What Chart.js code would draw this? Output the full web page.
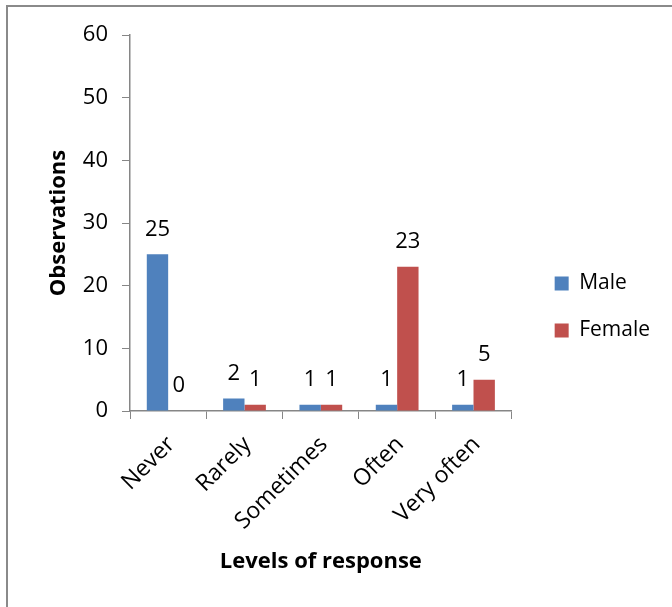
<!DOCTYPE html>
<html>
<head>
<meta charset="utf-8">
<script src="https://cdn.jsdelivr.net/npm/chart.js@4/dist/chart.umd.min.js"></script>
<style>
  html, body { margin: 0; padding: 0; background: #fff; }
  #wrap { position: relative; width: 672px; height: 607px; overflow: hidden; }
  #frame { position: absolute; left: 6px; top: 5px; right: -10px; bottom: -10px;
           border-left: 2px solid #8a8a8a; border-top: 2px solid #8a8a8a; }
  #c { position: absolute; left: 0; top: 0; }
</style>
</head>
<body>
<div id="wrap">
  <div id="frame"></div>
  <canvas id="c" width="672" height="607"></canvas>
</div>
<script>
const categories = ['Never', 'Rarely', 'Sometimes', 'Often', 'Very often'];
const maleCounts = [25, 2, 1, 1, 1];
const femaleCounts = [0, 1, 1, 23, 5];
const yTicks = [0, 10, 20, 30, 40, 50, 60];

const FONT = '"Open Sans", "Liberation Sans", sans-serif';
const AXIS_GREY = '#868686';

// Writes each bar's value above it
const valueLabels = {
  id: 'valueLabels',
  afterDatasetsDraw(chart) {
    const ctx = chart.ctx;
    ctx.save();
    ctx.font = '22px ' + FONT;
    ctx.fillStyle = '#000';
    ctx.textAlign = 'center';
    ctx.textBaseline = 'middle';
    chart.data.datasets.forEach((ds, i) => {
      chart.getDatasetMeta(i).data.forEach((bar, j) => {
        ctx.fillText(String(ds.data[j]), bar.x, bar.y - 25);
      });
    });
    ctx.restore();
  }
};

// Moves the legend block a little further from the plot
const legendShift = {
  id: 'legendShift',
  afterLayout(chart) {
    const lg = chart.legend;
    if (lg) { lg.left += 17; lg.right += 17; }
  }
};

new Chart(document.getElementById('c'), {
  type: 'bar',
  data: {
    labels: categories,
    datasets: [
      { label: 'Male', data: maleCounts, backgroundColor: '#4F81BD' },
      { label: 'Female', data: femaleCounts, backgroundColor: '#C0504D' }
    ]
  },
  options: {
    responsive: false,
    animation: false,
    devicePixelRatio: 1,
    layout: { padding: { left: 42, top: 35, right: 29, bottom: 28 } },
    datasets: { bar: { categoryPercentage: 0.56, barPercentage: 1.0 } },
    plugins: {
      legend: {
        position: 'right',
        labels: {
          font: { family: FONT, size: 21 },
          color: '#000',
          boxWidth: 14,
          boxHeight: 14,
          padding: 26
        }
      },
      tooltip: { enabled: false }
    },
    scales: {
      x: {
        grid: { drawOnChartArea: false, drawTicks: true, tickLength: 8, color: AXIS_GREY, offset: true },
        border: { color: AXIS_GREY, width: 1.5 },
        ticks: { color: '#000', font: { family: FONT, size: 23 }, minRotation: 45, maxRotation: 45,
                 padding: 12, labelOffset: 3 },
        title: { display: true, text: 'Levels of response', color: '#000',
                 font: { family: FONT, size: 22, weight: 'bold' } },
        afterFit(scale) { scale.height = 168; }
      },
      y: {
        min: 0,
        max: 60,
        afterBuildTicks(scale) { scale.ticks = yTicks.map(v => ({ value: v })); },
        grid: { drawOnChartArea: false, drawTicks: true, tickLength: 8, color: AXIS_GREY },
        border: { color: AXIS_GREY, width: 1.5 },
        ticks: { color: '#000', font: { family: FONT, size: 22 }, padding: 14 },
        title: { display: true, text: 'Observations', color: '#000',
                 font: { family: FONT, size: 22, weight: 'bold' } },
        afterFit(scale) { scale.width = 88; }
      }
    }
  },
  plugins: [valueLabels, legendShift]
});
</script>
</body>
</html>
